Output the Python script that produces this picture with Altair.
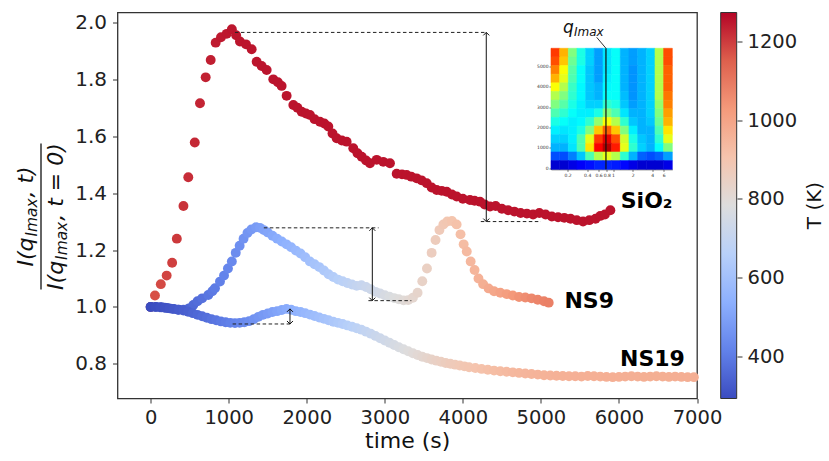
import altair as alt
import pandas as pd

# ---------------- data ----------------
sio2_t = [0, 55, 130, 205, 275, 335, 420, 482, 565, 632,
          705, 769, 833, 901, 974, 1040, 1095, 1144, 1221, 1294,
          1358, 1422, 1486, 1571, 1630, 1678, 1742, 1828, 1880, 1935,
          1990, 2041, 2100, 2169, 2225, 2276, 2330, 2383, 2450, 2511,
          2596, 2650, 2704, 2760, 2810, 2896, 2980, 3066, 3152, 3220,
          3280, 3340, 3408, 3470, 3537, 3600, 3665, 3730, 3793, 3860,
          3921, 4000, 4091, 4150, 4220, 4280, 4348, 4420, 4500, 4580,
          4660, 4740, 4820, 4900, 4980, 5060, 5140, 5220, 5300, 5380,
          5460, 5540, 5620, 5700, 5760, 5820, 5890]
sio2_I = [1.000, 1.040, 1.080, 1.110, 1.155, 1.240, 1.355, 1.456, 1.578, 1.716,
          1.807, 1.868, 1.929, 1.948, 1.960, 1.976, 1.955, 1.933, 1.923, 1.906,
          1.862, 1.847, 1.833, 1.800, 1.790, 1.777, 1.742, 1.710, 1.700, 1.686,
          1.680, 1.675, 1.660, 1.651, 1.645, 1.634, 1.610, 1.593, 1.585, 1.581,
          1.558, 1.540, 1.528, 1.515, 1.505, 1.517, 1.510, 1.505, 1.468, 1.466,
          1.464, 1.458, 1.452, 1.445, 1.435, 1.420, 1.411, 1.408, 1.405, 1.395,
          1.388, 1.380, 1.376, 1.373, 1.370, 1.360, 1.353, 1.355, 1.345, 1.340,
          1.335, 1.330, 1.328, 1.325, 1.330, 1.325, 1.318, 1.315, 1.313, 1.310,
          1.305, 1.300, 1.305, 1.310, 1.320, 1.325, 1.340]
sio2_T = [1165, 1172, 1180, 1188, 1195, 1203, 1212, 1218, 1225, 1230,
          1235, 1239, 1242, 1245, 1247, 1249, 1250, 1250, 1251, 1251,
          1251, 1252, 1252, 1252, 1252, 1252, 1252, 1253, 1253, 1253,
          1253, 1253, 1253, 1253, 1253, 1253, 1253, 1253, 1253, 1253,
          1253, 1253, 1253, 1253, 1253, 1253, 1253, 1253, 1253, 1253,
          1253, 1253, 1253, 1253, 1253, 1253, 1253, 1253, 1253, 1253,
          1253, 1253, 1253, 1253, 1253, 1253, 1253, 1253, 1253, 1253,
          1253, 1253, 1253, 1253, 1253, 1253, 1253, 1253, 1253, 1253,
          1253, 1253, 1253, 1253, 1253, 1253, 1253]

ns9_t = [0, 70, 140, 210, 280, 350, 420, 490, 546, 600,
         660, 738, 790, 824, 888, 940, 990, 1040, 1090, 1140,
         1190, 1240, 1290, 1350, 1400, 1450, 1500, 1560, 1620, 1680,
         1740, 1800, 1860, 1920, 1980, 2040, 2100, 2160, 2220, 2280,
         2340, 2400, 2460, 2520, 2580, 2640, 2700, 2760, 2820, 2880,
         2940, 3000, 3060, 3120, 3180, 3240, 3300, 3360, 3420, 3480,
         3540, 3600, 3650, 3700, 3750, 3800, 3860, 3920, 3970, 4010,
         4050, 4100, 4150, 4200, 4260, 4330, 4400, 4480, 4560, 4640,
         4720, 4800, 4880, 4960, 5040, 5100]
ns9_I = [1.000, 1.000, 0.999, 0.996, 0.993, 0.990, 0.990, 0.995, 1.007, 1.020,
         1.030, 1.042, 1.055, 1.066, 1.089, 1.110, 1.135, 1.160, 1.190, 1.215,
         1.240, 1.260, 1.272, 1.280, 1.278, 1.270, 1.262, 1.250, 1.240, 1.230,
         1.220, 1.210, 1.198, 1.188, 1.175, 1.160, 1.150, 1.140, 1.128, 1.115,
         1.105, 1.096, 1.090, 1.084, 1.079, 1.074, 1.076, 1.070, 1.062, 1.053,
         1.047, 1.041, 1.036, 1.031, 1.027, 1.023, 1.024, 1.032, 1.050, 1.090,
         1.135, 1.190, 1.235, 1.270, 1.290, 1.300, 1.302, 1.290, 1.255, 1.220,
         1.195, 1.160, 1.130, 1.100, 1.080, 1.065, 1.055, 1.050, 1.045, 1.040,
         1.035, 1.033, 1.030, 1.025, 1.020, 1.015]
ns9_T = [293, 300, 308, 316, 324, 333, 342, 351, 360, 368,
         377, 388, 396, 401, 411, 419, 427, 435, 443, 451,
         459, 467, 475, 485, 493, 501, 509, 519, 529, 539,
         549, 559, 569, 579, 589, 599, 609, 619, 629, 639,
         649, 659, 669, 679, 689, 699, 709, 719, 729, 739,
         749, 759, 769, 779, 789, 799, 809, 819, 829, 839,
         849, 859, 867, 875, 884, 892, 902, 912, 920, 927,
         934, 942, 950, 958, 968, 980, 991, 1004, 1017, 1030,
         1043, 1055, 1065, 1073, 1079, 1083]

ns19_t = [0, 60, 120, 180, 240, 300, 360, 420, 480, 540,
          600, 660, 720, 780, 840, 900, 960, 1020, 1080, 1140,
          1200, 1260, 1320, 1380, 1440, 1500, 1560, 1620, 1680, 1740,
          1800, 1860, 1920, 1980, 2040, 2100, 2160, 2220, 2280, 2340,
          2400, 2460, 2520, 2580, 2640, 2700, 2760, 2820, 2880, 2940,
          3000, 3060, 3120, 3180, 3240, 3300, 3360, 3420, 3480, 3540,
          3600, 3660, 3720, 3780, 3840, 3900, 3960, 4020, 4080, 4160,
          4240, 4320, 4400, 4480, 4560, 4640, 4720, 4800, 4880, 4960,
          5040, 5120, 5200, 5280, 5360, 5440, 5520, 5600, 5680, 5760,
          5840, 5920, 6000, 6080, 6160, 6240, 6320, 6400, 6480, 6560,
          6640, 6720, 6800, 6880, 6960]
ns19_I = [1.000, 1.000, 0.999, 0.997, 0.995, 0.993, 0.990, 0.987, 0.983, 0.978,
          0.972, 0.967, 0.962, 0.957, 0.953, 0.949, 0.946, 0.944, 0.943, 0.944,
          0.946, 0.950, 0.957, 0.965, 0.972, 0.977, 0.982, 0.985, 0.989, 0.993,
          0.990, 0.985, 0.982, 0.978, 0.973, 0.968, 0.963, 0.958, 0.953, 0.948,
          0.944, 0.940, 0.935, 0.930, 0.925, 0.920, 0.913, 0.906, 0.898, 0.890,
          0.882, 0.874, 0.866, 0.858, 0.851, 0.844, 0.837, 0.831, 0.825, 0.820,
          0.815, 0.811, 0.807, 0.803, 0.800, 0.797, 0.794, 0.791, 0.788, 0.785,
          0.782, 0.779, 0.776, 0.774, 0.772, 0.770, 0.768, 0.766, 0.764, 0.762,
          0.760, 0.759, 0.758, 0.757, 0.756, 0.756, 0.755, 0.757, 0.756, 0.755,
          0.754, 0.753, 0.754, 0.755, 0.756, 0.755, 0.754, 0.755, 0.756, 0.755,
          0.754, 0.755, 0.754, 0.753, 0.753]
ns19_T = [293, 297, 302, 308, 314, 320, 327, 334, 341, 349,
          357, 365, 373, 381, 389, 397, 405, 413, 421, 430,
          439, 448, 457, 466, 476, 486, 496, 506, 516, 526,
          536, 546, 556, 566, 576, 586, 596, 606, 616, 626,
          636, 646, 656, 666, 676, 686, 696, 706, 716, 726,
          736, 746, 756, 766, 776, 786, 796, 806, 816, 826,
          836, 845, 853, 861, 869, 876, 883, 890, 896, 904,
          911, 918, 924, 930, 935, 940, 944, 948, 951, 954,
          956, 958, 960, 961, 962, 963, 964, 964, 965, 965,
          966, 966, 966, 967, 967, 967, 968, 968, 968, 968,
          968, 969, 969, 969, 969]

# annotation values (data units)
dash_t1 = [1080, 4230, 1450, 2790, 1050]
dash_t2 = [4300, 5000, 2920, 3340, 1790]
dash_y = [1.965, 1.300, 1.278, 1.022, 0.940]
arrow_t = [4300, 2840, 1785]
arrow_top = [1.965, 1.278, 0.993]
arrow_bot = [1.300, 1.022, 0.940]

label_text = ["SiO\u2082", "NS9", "NS19"]
label_t = [6023, 5301, 6014]
label_y = [1.348, 0.996, 0.793]

x_ticks = [0, 1000, 2000, 3000, 4000, 5000, 6000, 7000]
y_ticks = [0.8, 1.0, 1.2, 1.4, 1.6, 1.8, 2.0]
cb_ticks = [400, 600, 800, 1000, 1200]
T_MIN, T_MAX = 293, 1273

coolwarm = ["#3b4cc0", "#6282ea", "#8db0fe", "#b8d0f9", "#dddddd",
            "#f5c4ad", "#f49a7b", "#de604d", "#b40426"]
cw_domain = [293, 415.5, 538, 660.5, 783, 905.5, 1028, 1150.5, 1273]

# inset map I(q, t)
inset_q_edges = [0.1109, 0.1508, 0.2050, 0.2787, 0.3789, 0.5151, 0.7003, 0.9520,
                 1.2943, 1.7596, 2.3921, 3.2520, 4.4211, 6.0104, 8.171]
inset_t_edges = [-50, 375, 800, 1225, 1650, 2075, 2500, 2925, 3350, 3775,
                 4200, 4625, 5050, 5475, 5900]
inset_rows_top_to_bottom = [
    [0.82, 0.70, 0.50, 0.40, 0.33, 0.28, 0.35, 0.38, 0.30, 0.28, 0.30, 0.33, 0.55, 0.80],
    [0.80, 0.68, 0.48, 0.40, 0.33, 0.28, 0.35, 0.38, 0.30, 0.28, 0.30, 0.33, 0.55, 0.80],
    [0.75, 0.62, 0.46, 0.38, 0.32, 0.28, 0.35, 0.38, 0.30, 0.27, 0.30, 0.33, 0.55, 0.78],
    [0.70, 0.60, 0.45, 0.38, 0.32, 0.28, 0.36, 0.38, 0.30, 0.27, 0.30, 0.33, 0.55, 0.78],
    [0.62, 0.55, 0.43, 0.37, 0.32, 0.30, 0.37, 0.38, 0.30, 0.27, 0.30, 0.33, 0.55, 0.78],
    [0.55, 0.50, 0.42, 0.37, 0.32, 0.30, 0.38, 0.38, 0.31, 0.27, 0.30, 0.33, 0.55, 0.76],
    [0.50, 0.46, 0.40, 0.36, 0.33, 0.33, 0.42, 0.40, 0.32, 0.28, 0.30, 0.33, 0.52, 0.75],
    [0.45, 0.42, 0.38, 0.36, 0.36, 0.40, 0.50, 0.45, 0.35, 0.30, 0.30, 0.33, 0.50, 0.72],
    [0.40, 0.38, 0.36, 0.37, 0.42, 0.52, 0.62, 0.55, 0.42, 0.32, 0.30, 0.32, 0.48, 0.70],
    [0.36, 0.35, 0.36, 0.40, 0.50, 0.68, 0.78, 0.68, 0.50, 0.36, 0.30, 0.30, 0.45, 0.65],
    [0.33, 0.33, 0.36, 0.45, 0.60, 0.82, 0.90, 0.80, 0.58, 0.40, 0.32, 0.30, 0.42, 0.60],
    [0.30, 0.30, 0.35, 0.45, 0.65, 0.88, 0.95, 0.85, 0.60, 0.42, 0.33, 0.30, 0.38, 0.50],
    [0.20, 0.20, 0.25, 0.32, 0.45, 0.55, 0.60, 0.55, 0.42, 0.30, 0.22, 0.20, 0.22, 0.28],
    [0.08, 0.08, 0.10, 0.12, 0.14, 0.16, 0.16, 0.15, 0.13, 0.10, 0.08, 0.08, 0.08, 0.10],
]
inset_q_ticks = [0.2, 0.4, 0.6, 0.8, 1, 2, 4, 6]
inset_t_ticks = [0, 1000, 2000, 3000, 4000, 5000]
q_imax = 0.778
jet = ["#000080", "#0000ff", "#0080ff", "#00ffff", "#80ff80",
       "#ffff00", "#ff8000", "#ff0000", "#800000"]
jet_domain = [0, 0.125, 0.25, 0.375, 0.5, 0.625, 0.75, 0.875, 1.0]

# ---------------- tables ----------------
rows = []
for name, ts, Is, Ts in [("SiO2", sio2_t, sio2_I, sio2_T),
                         ("NS9", ns9_t, ns9_I, ns9_T),
                         ("NS19", ns19_t, ns19_I, ns19_T)]:
    assert len(ts) == len(Is) == len(Ts), name
    for a, b, c in zip(ts, Is, Ts):
        rows.append({"series": name, "t": a, "I": b, "T": c})
pts = pd.DataFrame(rows)

dash_df = pd.DataFrame({"t1": dash_t1, "t2": dash_t2, "y": dash_y})
arr_df = pd.DataFrame({"t": arrow_t, "top": arrow_top, "bot": arrow_bot})
lab_df = pd.DataFrame({"text": label_text, "t": label_t, "y": label_y})

cells = []
nr = len(inset_rows_top_to_bottom)
for ri, row in enumerate(inset_rows_top_to_bottom):
    r = nr - 1 - ri
    for c, v in enumerate(row):
        cells.append({"q1": inset_q_edges[c], "q2": inset_q_edges[c + 1],
                      "t1": inset_t_edges[r], "t2": inset_t_edges[r + 1], "v": v})
cells = pd.DataFrame(cells)

FONT = "DejaVu Sans"
W, H = 579.5, 386

xs = alt.Scale(domain=[-425, 7000], nice=False, zero=False)
ys = alt.Scale(domain=[0.678, 2.035], nice=False, zero=False)
x_axis = alt.Axis(values=x_ticks, format="d", title="time (s)", labelFontSize=19.5,
                  tickSize=4.5, labelPadding=5, domain=False, grid=False,
                  titleFontSize=22, titleFontWeight="normal", titleY=49,
                  titleBaseline="alphabetic", labelFlush=False, labelOverlap=False)
y_axis = alt.Axis(values=y_ticks, format=".1f", title=None, labelFontSize=20,
                  tickSize=5, labelPadding=6, domain=False, grid=False,
                  labelFlush=False, labelOverlap=False)

cscale = alt.Scale(domain=cw_domain, range=coolwarm, interpolate="rgb")

points = alt.Chart(pts).mark_circle(size=98, opacity=1).encode(
    x=alt.X("t:Q", scale=xs, axis=x_axis),
    y=alt.Y("I:Q", scale=ys, axis=y_axis),
    color=alt.Color("T:Q", scale=cscale, legend=None),
)

dashes = alt.Chart(dash_df).mark_rule(color="#222", strokeWidth=1, strokeDash=[3.5, 2.5]).encode(
    x=alt.X("t1:Q", scale=xs, axis=x_axis), x2="t2:Q",
    y=alt.Y("y:Q", scale=ys, axis=y_axis),
)
shafts = alt.Chart(arr_df).mark_rule(color="#111", strokeWidth=1).encode(
    x=alt.X("t:Q", scale=xs, axis=x_axis),
    y=alt.Y("top:Q", scale=ys, axis=y_axis), y2="bot:Q",
)
head_up = alt.Chart(arr_df).mark_point(shape="M-1,1L0,0L1,1", filled=False, size=36,
                                       color="#111", strokeWidth=1, opacity=1).encode(
    x=alt.X("t:Q", scale=xs, axis=x_axis),
    y=alt.Y("top:Q", scale=ys, axis=y_axis),
)
head_dn = alt.Chart(arr_df).mark_point(shape="M-1,-1L0,0L1,-1", filled=False, size=36,
                                       color="#111", strokeWidth=1, opacity=1).encode(
    x=alt.X("t:Q", scale=xs, axis=x_axis),
    y=alt.Y("bot:Q", scale=ys, axis=y_axis),
)
labels = alt.Chart(lab_df).mark_text(font=FONT, fontSize=22, fontWeight="bold",
                                     align="left", baseline="alphabetic", color="#000").encode(
    x=alt.X("t:Q", scale=xs, axis=x_axis),
    y=alt.Y("y:Q", scale=ys, axis=y_axis),
    text="text:N",
)

one = pd.DataFrame({"k": [0]})


def ytxt(s, x, y, size):
    return alt.Chart(one).mark_text(font=FONT, fontSize=size, fontStyle="italic",
                                    angle=270, align="left", baseline="alphabetic",
                                    color="#111").encode(
        x=alt.value(x), y=alt.value(y), text=alt.value(s))


DY = 9
yt = [
    ytxt("I(q", -85, 245 + DY, 22), ytxt("Imax", -80.5, 215 + DY, 15.4), ytxt(", t)", -85, 176 + DY, 22),
    ytxt("I(q", -55, 268.4 + DY, 22), ytxt("Imax", -50.5, 238.4 + DY, 15.4), ytxt(", t = 0)", -55, 199.3 + DY, 22),
]
frac_bar = alt.Chart(one).mark_rule(color="#111", strokeWidth=1.3).encode(
    x=alt.value(-76.5), y=alt.value(122 + DY), y2=alt.value(268 + DY))

main = alt.layer(points, dashes, shafts, head_up, head_dn, labels, frac_bar, *yt)

# ---------------- inset ----------------
ixs = alt.Scale(type="log", domain=[0.1109, 8.171], range=[433.5, 554.8], nice=False)
iys = alt.Scale(domain=[-50, 5900], range=[156.8, 35.8], nice=False, zero=False)
ix_axis = alt.Axis(orient="bottom", offset=-229.2, values=inset_q_ticks, format="~g",
                   labelFontSize=4.5, tickSize=2, labelPadding=1, title=None, grid=False,
                   domainColor="#666", tickColor="#666", labelColor="#333",
                   labelFlush=False, labelOverlap=False)
iy_axis = alt.Axis(orient="left", offset=-433.5, values=inset_t_ticks, format="d",
                   labelFontSize=4.5, tickSize=2, labelPadding=1, title=None, grid=False,
                   domainColor="#666", tickColor="#666", labelColor="#333",
                   labelFlush=False, labelOverlap=False)
jscale = alt.Scale(domain=jet_domain, range=jet, interpolate="rgb")

heat = alt.Chart(cells).mark_rect(strokeWidth=0.6).encode(
    x=alt.X("q1:Q", scale=ixs, axis=ix_axis), x2="q2:Q",
    y=alt.Y("t1:Q", scale=iys, axis=iy_axis), y2="t2:Q",
    color=alt.Color("v:Q", scale=jscale, legend=None),
    stroke=alt.Stroke("v:Q", scale=jscale, legend=None),
)
qline_df = pd.DataFrame({"q": [q_imax], "ta": [inset_t_edges[0]], "tb": [inset_t_edges[-1]]})
qline = alt.Chart(qline_df).mark_rule(color="#111", strokeWidth=1.2).encode(
    x=alt.X("q:Q", scale=ixs, axis=ix_axis),
    y=alt.Y("ta:Q", scale=iys, axis=iy_axis), y2="tb:Q")
ptr_df = pd.DataFrame({"qa": [0.56], "qb": [q_imax], "ta": [6440], "tb": [5900]})
ptr = alt.Chart(ptr_df).mark_rule(color="#333", strokeWidth=1).encode(
    x=alt.X("qa:Q", scale=ixs, axis=ix_axis), x2="qb:Q",
    y=alt.Y("ta:Q", scale=iys, axis=iy_axis), y2="tb:Q")
qlab_df = pd.DataFrame({"q": [0.170, 0.2505], "t": [6652, 6505], "s": ["q", "Imax"]})
qlab_big = alt.Chart(qlab_df.iloc[[0]]).mark_text(font=FONT, fontSize=17, fontStyle="italic",
                                                  align="left", baseline="alphabetic",
                                                  color="#111").encode(
    x=alt.X("q:Q", scale=ixs, axis=ix_axis), y=alt.Y("t:Q", scale=iys, axis=iy_axis), text="s:N")
qlab_sub = alt.Chart(qlab_df.iloc[[1]]).mark_text(font=FONT, fontSize=12, fontStyle="italic",
                                                  align="left", baseline="alphabetic",
                                                  color="#111").encode(
    x=alt.X("q:Q", scale=ixs, axis=ix_axis), y=alt.Y("t:Q", scale=iys, axis=iy_axis), text="s:N")

inset = alt.layer(heat, qline, ptr, qlab_big, qlab_sub)

# ---------------- colorbar ----------------
grad = alt.LinearGradient(
    gradient="linear",
    stops=[alt.GradientStop(offset=i / (len(coolwarm) - 1), color=c) for i, c in enumerate(coolwarm)],
    x1=0, x2=0, y1=1, y2=0)
cb_axis = alt.Axis(orient="right", offset=40, values=cb_ticks, format="d", title="T (K)",
                   titleAngle=270, titleX=83, titleY=192.5, titleAlign="center",
                   titleBaseline="alphabetic", titleFontSize=20, titleFontWeight="normal",
                   labelFontSize=19.5, tickSize=5, labelPadding=5, domain=False, grid=False,
                   labelFlush=False, labelOverlap=False)
cbar = alt.Chart(pd.DataFrame({"lo": [T_MIN], "hi": [T_MAX]})).mark_rect(
    color=grad, stroke="#333", strokeWidth=1).encode(
    x=alt.value(W + 23.7), x2=alt.value(W + 39.7),
    y=alt.Y("lo:Q", scale=alt.Scale(domain=[T_MIN, T_MAX], nice=False, zero=False), axis=cb_axis),
    y2="hi:Q")

chart = alt.layer(main, inset, cbar).resolve_scale(
    x="independent", y="independent", color="independent"
).properties(
    width=W, height=H,
    autosize=alt.AutoSizeParams(type="none"),
    padding={"left": 117.5, "top": 12.5, "right": 132, "bottom": 62.5},
).configure_view(stroke="#333", strokeWidth=1.3).configure_axis(
    labelFont=FONT, titleFont=FONT, labelColor="#222", titleColor="#111", tickColor="#333"
).configure_text(font=FONT)

chart.save("out.html", embed_options={"renderer": "svg", "actions": False})
